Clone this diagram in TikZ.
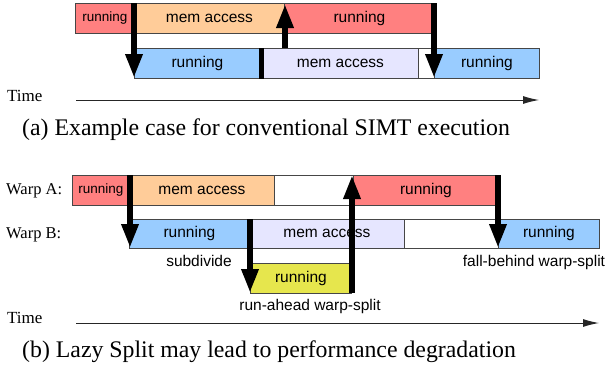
\documentclass[tikz,border=0pt]{standalone}
\usepackage{fontspec}
\setmainfont{Liberation Serif}
\setsansfont{Liberation Sans}
\usetikzlibrary{arrows.meta}
\definecolor{cRun}{RGB}{255,128,128}
\definecolor{cMem}{RGB}{255,204,153}
\definecolor{cBlue}{RGB}{153,204,255}
\definecolor{cLav}{RGB}{230,230,255}
\definecolor{cYel}{RGB}{230,230,77}
\definecolor{cEdge}{RGB}{70,70,70}
\tikzset{
  box/.style={draw=cEdge, line width=0.8pt, inner sep=0pt, anchor=north west,
    font=\sffamily\fontsize{15.5}{16}\selectfont},
  smallbox/.style={box, font=\sffamily\fontsize{13.5}{14}\selectfont},
  lbl/.style={inner sep=0pt, font=\sffamily\fontsize{15.5}{16}\selectfont},
  serif/.style={inner sep=0pt, font=\rmfamily\fontsize{16.5}{17}\selectfont},
  timelbl/.style={inner sep=0pt, anchor=base west, font=\rmfamily\fontsize{17}{18}\selectfont},
  caption/.style={inner sep=0pt, anchor=west, font=\rmfamily\fontsize{23.8}{25}\selectfont},
  bigarrow/.style={line width=6pt, -{Triangle[length=24pt,width=16pt]}},
  timeline/.style={line width=1pt, draw=black!85, -{Latex[length=16pt,width=8pt]}},
}
\begin{document}
\begin{tikzpicture}[x=1pt,y=-1pt]
\useasboundingbox (0,0) rectangle (607,367);
% ---------- (a) ----------
\node[smallbox, fill=cRun, minimum width=59pt, minimum height=30pt] (a1) at (75,3) {running};
\node[box, fill=cMem, minimum width=150pt, minimum height=30pt] (a2) at (134,3) {mem access};
\node[box, fill=cRun, minimum width=150pt, minimum height=30pt] (a3) at (284,3) {running};
\node[box, fill=cBlue, minimum width=126pt, minimum height=30pt] (b1) at (134,48) {running};
\node[box, fill=cLav, minimum width=156pt, minimum height=30pt] (b2) at (262,48) {mem access};
\node[box, fill=white, minimum width=16pt, minimum height=30pt] (b3) at (418,48) {};
\node[box, fill=cBlue, minimum width=105pt, minimum height=30pt] (b4) at (434,48) {running};
\draw[line width=5pt] ([xshift=1pt]b1.north east) -- ([xshift=1pt]b1.south east);
\coordinate (p1s) at (134,3);   \coordinate (p1e) at (134,78);
\coordinate (p2s) at (285,48);  \coordinate (p2e) at (285,4);
\coordinate (p3s) at (434,3);   \coordinate (p3e) at (434,78);
\draw[bigarrow] (p1s) -- (p1e);
\draw[bigarrow] (p2s) -- (p2e);
\draw[bigarrow] (p3s) -- (p3e);
\node[timelbl] (timeA) at (7,101.5) {Time};
\coordinate (tas) at (76,100) ; \coordinate (tae) at (539,100);
\draw[timeline] (tas) -- (tae);
\node[caption] (capA) at (22,130) {(a) Example case for conventional SIMT execution};
% ---------- (b) ----------
\node[serif, anchor=west] (wA) at (6,191) {Warp A:};
\node[serif, anchor=west] (wB) at (6,235) {Warp B:};
\node[smallbox, fill=cRun, minimum width=57pt, minimum height=30pt] (c1) at (72,175) {running};
\node[box, fill=cMem, minimum width=145pt, minimum height=30pt] (c2) at (129,175) {mem access};
\node[box, fill=white, minimum width=79pt, minimum height=30pt] (c3) at (274,175) {};
\node[box, fill=cRun, minimum width=145pt, minimum height=30pt] (c4) at (353,175) {running};
\node[box, fill=cBlue, minimum width=120pt, minimum height=29pt] (d1) at (129,219) {running};
\node[box, fill=cLav, minimum width=155pt, minimum height=29pt] (d2) at (249,219) {mem access};
\node[box, fill=white, minimum width=94pt, minimum height=29pt] (d3) at (404,219) {};
\node[box, fill=cBlue, minimum width=101pt, minimum height=29pt] (d4) at (498,219) {running};
\node[box, fill=cYel, minimum width=101pt, minimum height=30pt] (e1) at (250,263) {running};
\node[lbl] (subd) at (199,261) {subdivide};
\node[lbl] (runa) at (310,306) {run-ahead warp-split};
\node[lbl] (fallb) at (534,262) {fall-behind warp-split};
\coordinate (q1s) at (130,175); \coordinate (q1e) at (130,248);
\coordinate (q2s) at (250,219); \coordinate (q2e) at (250,293);
\coordinate (q3s) at (352,293); \coordinate (q3e) at (352,175);
\coordinate (q4s) at (498,175); \coordinate (q4e) at (498,248);
\draw[bigarrow] (q1s) -- (q1e);
\draw[bigarrow] (q2s) -- (q2e);
\draw[bigarrow] (q3s) -- (q3e);
\draw[bigarrow] (q4s) -- (q4e);
\node[timelbl] (timeB) at (7,323) {Time};
\coordinate (tbs) at (76,323); \coordinate (tbe) at (599,323);
\draw[timeline] (tbs) -- (tbe);
\node[caption] (capB) at (22,352) {(b) Lazy Split may lead to performance degradation};
\end{tikzpicture}
\end{document}
